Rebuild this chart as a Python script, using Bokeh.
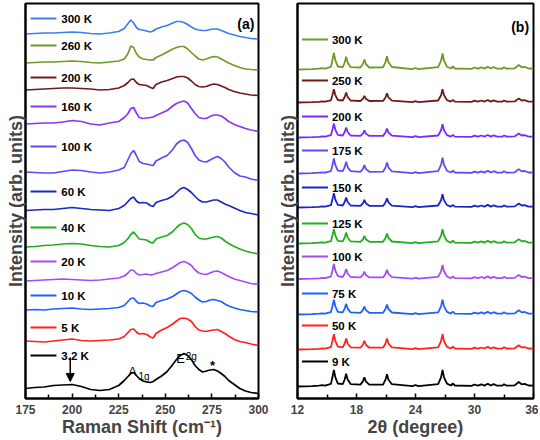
from bokeh.plotting import figure
from bokeh.layouts import row
from bokeh.models import FixedTicker, Range1d, Arrow, NormalHead
from bokeh.embed import file_html
from bokeh.resources import INLINE
from bokeh.core.properties import value

FONT = "Liberation Sans"

# ---------------- Panel (a): Raman spectra ----------------
raman_shift = [175, 180, 185, 190, 195, 200, 205, 210, 215, 220, 225,
               228, 230, 231.5, 233, 234.5, 236, 238, 240, 242, 243.5, 245,
               248, 251, 254, 256, 258, 260, 262, 264, 266, 268, 270,
               272, 274, 276, 278, 280, 282, 284, 287, 290, 293, 296, 300]

raman_300K = [366.5, 367, 367.5, 367.5, 368, 368.5, 368, 367, 366.5, 367.5, 369,
              372, 377, 380.5, 377.5, 373, 371, 370.5, 369.5, 368.5, 369.5, 371.5,
              373.5, 375, 377.5, 379, 379, 378, 376, 373.5, 371.5, 370.5, 370,
              370, 371, 371.5, 371.5, 370, 368.5, 367, 365.5, 364, 363, 362, 361.5]
raman_260K = [337.5, 338, 338.5, 338.5, 339, 339.5, 339, 338, 337.5, 338.5, 339.5,
              341.5, 347, 354.5, 353, 347, 343.5, 341.5, 341, 340.5, 340.5, 343,
              345.5, 348.5, 351.5, 353, 354, 354, 351.5, 348, 344.5, 341.5, 340.5,
              341.5, 343, 344, 343.5, 341.5, 339.5, 337.5, 335, 333, 331.5, 331, 330.5]
raman_200K = [310.5, 311, 311.5, 312, 312.5, 312.5, 312, 311.5, 310.5, 311, 312.5,
              315, 318, 321, 321.5, 318, 316, 315.5, 315, 313, 312, 316,
              318.5, 320, 322, 323.5, 324, 324, 322.5, 319.5, 316, 314, 313.5,
              314, 315.5, 316.5, 316, 314.5, 313, 311, 309, 307.5, 306.5, 305.5, 305]
raman_160K = [276.5, 277, 277.5, 277.5, 278.5, 280, 279, 276.5, 275.5, 277.5, 279,
              283, 287, 292, 293, 287.5, 283, 282, 282.5, 283, 283.5, 285,
              287.5, 290, 294.5, 297, 298.5, 299.5, 297.5, 292, 287, 283, 282,
              282, 284, 285.5, 285.5, 284.5, 282, 279, 276, 274, 272, 270.5, 269]
raman_100K = [228.5, 228, 227.5, 227.5, 229, 230.5, 230, 228.5, 227.5, 228.5, 230.5,
              233, 241, 247, 250, 245, 239, 237, 236.5, 235.5, 235, 239.5,
              242.5, 245, 251, 256.5, 259.5, 260.5, 258, 252, 245, 240.5, 239,
              238.5, 240.5, 242.5, 244, 242, 238.5, 233.5, 228, 224.5, 223.5, 221.5, 220]
raman_60K = [190, 190.5, 191, 191, 192, 193, 192, 191, 190.5, 190, 192,
             195, 199, 202, 203.5, 199.5, 197.5, 198, 197.5, 195, 194, 198,
             200, 201.5, 204.5, 208, 211.5, 213, 211, 208, 204, 200.5, 198.5,
             198.5, 199.5, 200.5, 200.5, 198.5, 196.5, 195, 192.5, 190, 188, 187, 185.5]
raman_40K = [153.5, 154, 155, 155.5, 156.5, 157, 156.5, 155, 154, 153.5, 155,
             158, 162, 166, 168.5, 165, 161.5, 161, 160.5, 158, 157.5, 161.5,
             163.5, 165, 169, 173, 176, 177.5, 176, 172, 166, 162.5, 161.5,
             161.5, 162.5, 163.5, 164, 162.5, 159.5, 157, 154, 151.5, 149.5, 148, 146.5]
raman_20K = [119.5, 120, 120.5, 121, 121.5, 121, 120.5, 120, 120.5, 121.5, 122.5,
             124.5, 127.5, 130.5, 130, 127, 125.5, 126, 126.5, 125.5, 126, 127,
             128.5, 130, 133, 135.5, 138, 139, 137.5, 135, 130.5, 127.5, 126.5,
             126, 127.5, 129, 129.5, 128, 126, 124, 121.5, 120, 118.5, 117, 116]
raman_10K = [90.5, 91, 90.5, 91.5, 92, 92.5, 91.5, 91, 91.5, 92, 93,
             95, 99, 102, 102.5, 99, 97, 97.5, 96.5, 94.5, 94, 98,
             100, 101.5, 104, 106.5, 109, 110, 109, 107, 103.5, 100.5, 98.5,
             99, 100.5, 101, 100, 99, 96.5, 94.5, 92.5, 91, 90, 89, 88.5]
raman_5K = [59.5, 59, 58.5, 59.5, 60.5, 61.5, 60, 59.5, 60, 60.5, 61.5,
            64, 68, 71, 71.5, 68.5, 66.5, 67, 66, 63.5, 62.5, 67,
            70.5, 73, 76.5, 79.5, 82, 82.5, 81.5, 79, 74, 70.5, 69.5,
            69, 70, 70.5, 71, 69, 67, 64.5, 61, 59, 58, 56.5, 55]
raman_3p2K = [12, 13, 13.5, 15, 15.5, 16, 14, 11, 10, 11, 15,
              20, 24, 27, 28, 25, 22, 19.5, 18.5, 18, 19, 21,
              24.5, 29, 36, 41, 45, 47, 45, 41, 35, 31, 28.5,
              29.5, 30.5, 31, 29.5, 27, 24, 20, 16, 12, 9.5, 8, 7]

raman_series = [raman_300K, raman_260K, raman_200K, raman_160K, raman_100K,
                raman_60K, raman_40K, raman_20K, raman_10K, raman_5K, raman_3p2K]
raman_labels = ["300 K", "260 K", "200 K", "160 K", "100 K", "60 K",
                "40 K", "20 K", "10 K", "5 K", "3.2 K"]
raman_colors = ["#3a80ee", "#6f9a26", "#701a1a", "#8b36ee", "#5e4cf2", "#1c26c4",
                "#20ae20", "#a64cf0", "#1f60ff", "#ff2020", "#000000"]
raman_label_y = [382, 355, 323, 294, 254, 209, 173, 139, 105, 73, 45]

# ---------------- Panel (b): XRD patterns ----------------
two_theta = [12.0, 13.5, 14.2, 14.5, 14.8, 15.4, 15.55, 15.7, 15.85, 16.1,
             16.6, 16.8, 16.95, 17.1, 17.4, 18.4, 18.65, 18.8, 18.95, 19.3,
             20.7, 20.95, 21.1, 21.25, 21.6, 23.7, 24.0, 24.3, 26.3, 26.6,
             26.75, 26.9, 27.2, 27.6, 27.8, 28.0, 29.7, 30.0, 30.35, 30.7,
             31.0, 31.35, 31.65, 31.95, 32.3, 32.8, 33.0, 33.3, 34.1, 34.5,
             34.8, 35.1, 35.5, 36.0]

xrd_300K = [0, 0.3, 0.8, 1.3, 0.8, 2.6, 9.2, 16.7, 9.2, 3.0, 2.4, 7.0, 12.7, 7.0, 2.4, 2.0, 5.5, 10.0, 5.5, 2.0, 2.1, 7.3, 13.3, 7.3, 2.5, 0.3, 1.5, 0.3, 2.3, 8.8, 16.0, 8.8, 2.8, 1.0, 3.0, 1.0, 0.6, 2.0, 0.8, 2.2, 0.9, 2.8, 1.0, 2.4, 0.8, 0.8, 2.3, 0.8, 1.2, 4.5, 2.2, 2.6, 1.0, 0.8]
xrd_250K = [0, 0.3, 0.7, 1.1, 0.8, 2.2, 7.3, 13.3, 7.3, 2.5, 2.0, 5.5, 10.0, 5.5, 2.0, 1.5, 3.7, 6.7, 3.7, 1.5, 1.6, 5.1, 9.3, 5.1, 1.9, 0.3, 1.3, 0.3, 2.0, 7.3, 13.3, 7.3, 2.4, 0.9, 2.6, 0.9, 0.6, 1.8, 0.8, 2.0, 0.9, 2.5, 0.9, 2.1, 0.8, 0.8, 2.0, 0.8, 1.1, 3.9, 2.0, 2.3, 0.9, 0.8]
xrd_200K = [0, 0.3, 0.7, 1.1, 0.8, 2.3, 7.7, 14.0, 7.7, 2.6, 2.0, 5.5, 10.0, 5.5, 2.0, 1.6, 3.9, 7.0, 3.9, 1.6, 1.6, 5.0, 9.0, 5.0, 1.9, 0.3, 1.3, 0.3, 2.0, 7.3, 13.3, 7.3, 2.4, 0.9, 2.6, 0.9, 0.6, 1.8, 0.8, 2.0, 0.9, 2.5, 0.9, 2.2, 0.8, 0.8, 2.0, 0.8, 1.1, 4.0, 2.0, 2.3, 0.9, 0.8]
xrd_175K = [0, 0.3, 0.8, 1.2, 0.8, 2.4, 8.3, 15.0, 8.3, 2.8, 2.3, 6.4, 11.7, 6.4, 2.3, 1.7, 4.6, 8.3, 4.6, 1.7, 1.8, 6.0, 11.0, 6.0, 2.2, 0.3, 1.4, 0.3, 2.3, 8.6, 15.7, 8.6, 2.8, 1.0, 2.9, 1.0, 0.6, 1.9, 0.8, 2.1, 0.9, 2.7, 1.0, 2.3, 0.8, 0.8, 2.2, 0.8, 1.2, 4.4, 2.1, 2.5, 1.0, 0.8]
xrd_150K = [0, 0.3, 0.7, 1.1, 0.8, 2.3, 7.9, 14.3, 7.9, 2.6, 2.0, 5.5, 10.0, 5.5, 2.0, 1.7, 4.2, 7.7, 4.2, 1.7, 1.6, 5.1, 9.3, 5.1, 1.9, 0.3, 1.3, 0.3, 2.0, 7.3, 13.3, 7.3, 2.4, 0.9, 2.6, 0.9, 0.6, 1.8, 0.8, 2.0, 0.9, 2.6, 0.9, 2.2, 0.8, 0.8, 2.1, 0.8, 1.1, 4.0, 2.0, 2.4, 0.9, 0.8]
xrd_125K = [0, 0.3, 0.8, 1.2, 0.8, 2.3, 7.9, 14.3, 7.9, 2.6, 2.2, 6.0, 11.0, 6.0, 2.2, 1.7, 4.2, 7.7, 4.2, 1.7, 1.7, 5.5, 10.0, 5.5, 2.0, 0.3, 1.4, 0.3, 2.1, 7.9, 14.3, 7.9, 2.5, 0.9, 2.8, 0.9, 0.6, 1.9, 0.8, 2.1, 0.9, 2.7, 0.9, 2.3, 0.8, 0.8, 2.2, 0.8, 1.2, 4.4, 2.1, 2.5, 0.9, 0.8]
xrd_100K = [0, 0.3, 0.7, 1.1, 0.8, 2.4, 8.3, 15.0, 8.3, 2.8, 2.0, 5.5, 10.0, 5.5, 2.0, 1.6, 4.0, 7.3, 4.0, 1.6, 1.6, 5.1, 9.3, 5.1, 1.9, 0.3, 1.3, 0.3, 2.1, 7.7, 14.0, 7.7, 2.5, 0.9, 2.7, 0.9, 0.6, 1.8, 0.8, 2.0, 0.9, 2.6, 0.9, 2.2, 0.8, 0.8, 2.1, 0.8, 1.1, 4.1, 2.0, 2.4, 0.9, 0.8]
xrd_75K = [0, 0.3, 0.8, 1.2, 0.8, 2.4, 8.1, 14.7, 8.1, 2.7, 2.1, 5.9, 10.7, 5.9, 2.1, 1.7, 4.4, 8.0, 4.4, 1.7, 1.7, 5.5, 10.0, 5.5, 2.0, 0.3, 1.4, 0.3, 2.2, 8.1, 14.7, 8.1, 2.6, 0.9, 2.8, 0.9, 0.6, 1.9, 0.8, 2.1, 0.9, 2.7, 0.9, 2.3, 0.8, 0.8, 2.2, 0.8, 1.1, 4.3, 2.1, 2.5, 0.9, 0.8]
xrd_50K = [0, 0.4, 0.7, 1.2, 0.9, 2.4, 8.4, 15.3, 8.4, 2.8, 2.2, 6.0, 11.0, 6.0, 2.2, 1.8, 4.8, 8.7, 4.8, 1.8, 1.8, 6.0, 11.0, 6.0, 2.2, 0.4, 1.4, 0.4, 2.2, 8.4, 15.3, 8.4, 2.7, 1.0, 2.8, 1.0, 0.7, 1.8, 0.9, 2.0, 1.0, 2.6, 1.0, 2.2, 0.9, 0.9, 2.2, 0.9, 1.2, 4.2, 2.1, 2.4, 1.0, 0.8]
xrd_9K = [0, 0.3, 0.8, 1.3, 0.8, 2.6, 9.2, 16.7, 9.2, 3.0, 2.4, 7.0, 12.7, 7.0, 2.4, 1.9, 5.1, 9.3, 5.1, 1.9, 2.0, 6.8, 12.3, 6.8, 2.3, 0.3, 1.5, 0.3, 2.4, 9.2, 16.7, 9.2, 2.9, 1.0, 3.0, 1.0, 0.6, 2.0, 0.8, 2.2, 0.9, 2.8, 1.0, 2.4, 0.8, 0.8, 2.3, 0.8, 1.2, 4.5, 2.2, 2.6, 1.0, 0.8]

xrd_series = [xrd_300K, xrd_250K, xrd_200K, xrd_175K, xrd_150K,
              xrd_125K, xrd_100K, xrd_75K, xrd_50K, xrd_9K]
xrd_offsets = [331, 298, 263, 227, 193, 157, 121.5, 86, 51, 14]
xrd_labels = ["300 K", "250 K", "200 K", "175 K", "150 K",
              "125 K", "100 K", "75 K", "50 K", "9 K"]
xrd_colors = ["#6f9a26", "#701a1a", "#7a2aff", "#5c4cf5", "#1c22cc",
              "#20ae20", "#a64cf0", "#1f60ff", "#ff2020", "#000000"]
xrd_label_y = [361, 320, 284, 250, 213, 177, 144, 107, 75, 39]

raman_ticks = [175, 200, 225, 250, 275, 300]
xrd_ticks = [12, 18, 24, 30, 36]

for s in raman_series:
    assert len(s) == len(raman_shift)
for s in xrd_series:
    assert len(s) == len(two_theta)


def make_fig(width, xr, ticks, minor, xlabel, bl, br):
    p = figure(width=width, height=439, x_range=xr, y_range=Range1d(2, 397),
               output_backend="svg", toolbar_location=None,
               min_border_left=bl, min_border_right=br,
               min_border_top=3, min_border_bottom=41)
    p.grid.visible = False
    p.outline_line_color = "black"
    p.outline_line_width = 2
    xa = p.xaxis[0]
    xa.ticker = FixedTicker(ticks=ticks, minor_ticks=minor)
    xa.axis_label = xlabel
    xa.axis_label_text_font = FONT
    xa.axis_label_text_font_style = "bold"
    xa.axis_label_text_font_size = "18px"
    xa.axis_label_standoff = 0
    xa.major_label_text_font = FONT
    xa.major_label_text_font_style = "bold"
    xa.major_label_text_font_size = "12px"
    xa.major_label_standoff = 6
    xa.major_tick_in = 5
    xa.major_tick_out = 0
    xa.minor_tick_in = 4
    xa.minor_tick_out = 0
    xa.axis_line_width = 2
    xa.major_tick_line_width = 1.5
    xa.minor_tick_line_width = 1.5
    ya = p.yaxis[0]
    ya.ticker = FixedTicker(ticks=[])
    ya.axis_label = "Intensity (arb. units)"
    ya.axis_label_text_font = FONT
    ya.axis_label_text_font_style = "bold"
    ya.axis_label_text_font_size = "18px"
    ya.axis_label_standoff = 0
    ya.major_label_standoff = 0
    ya.major_tick_in = 0
    ya.major_tick_out = 0
    ya.minor_tick_in = 0
    ya.minor_tick_out = 0
    ya.axis_line_width = 2
    return p


# ---- panel (a)
pa = make_fig(270, Range1d(175, 300), raman_ticks,
              [187.5, 212.5, 237.5, 262.5, 287.5], "Raman Shift (cm\u207b\u00b9)", 25, 12)
for ys, c in zip(raman_series, raman_colors):
    pa.line(raman_shift, ys, line_color=c, line_width=1.7)
pa.segment(x0=[177.7] * len(raman_label_y), x1=[191.6] * len(raman_label_y),
           y0=raman_label_y, y1=raman_label_y, line_color=raman_colors, line_width=2)
pa.text(x=[194.2] * len(raman_label_y), y=raman_label_y, text=raman_labels,
        text_font=value(FONT), text_font_style="bold", text_font_size=value("11.5px"),
        text_baseline="middle", text_align="left", text_color="black")
pa.text(x=[297.8], y=[377], text=["(a)"], text_font=value(FONT), text_font_style="bold",
        text_font_size=value("14px"), text_baseline="middle", text_align="right")
# peak annotations
pa.text(x=[232.5], y=[29.5], text=["A"], text_font=value(FONT),
        text_font_size=value("13px"), text_baseline="alphabetic", text_align="center")
pa.text(x=[235.6], y=[24.5], text=["1g"], text_font=value(FONT),
        text_font_size=value("10px"), text_baseline="alphabetic", text_align="left")
pa.text(x=[258.2], y=[42], text=["E"], text_font=value(FONT),
        text_font_size=value("13px"), text_baseline="alphabetic", text_align="center")
pa.text(x=[261.0], y=[44], text=["2g"], text_font=value(FONT),
        text_font_size=value("10px"), text_baseline="alphabetic", text_align="left")
pa.text(x=[275.3], y=[35], text=["*"], text_font=value(FONT), text_font_style="bold",
        text_font_size=value("13px"), text_baseline="alphabetic", text_align="center")
pa.add_layout(Arrow(end=NormalHead(size=8, fill_color="black", line_color="black"),
                    x_start=199, y_start=43, x_end=199, y_end=19,
                    line_color="black", line_width=1.5))

# ---- panel (b)
pb = make_fig(268, Range1d(12, 36), xrd_ticks, [15, 21, 27, 33], "2\u03b8 (degree)", 27, 5)
for ys, off, c in zip(xrd_series, xrd_offsets, xrd_colors):
    pb.line(two_theta, [v + off for v in ys], line_color=c, line_width=1.8)
pb.segment(x0=[12.45] * len(xrd_label_y), x1=[15.1] * len(xrd_label_y),
           y0=xrd_label_y, y1=xrd_label_y, line_color=xrd_colors, line_width=2)
pb.text(x=[15.5] * len(xrd_label_y), y=xrd_label_y, text=xrd_labels,
        text_font=value(FONT), text_font_style="bold", text_font_size=value("11.5px"),
        text_baseline="middle", text_align="left", text_color="black")
pb.text(x=[35.55], y=[374], text=["(b)"], text_font=value(FONT), text_font_style="bold",
        text_font_size=value("14px"), text_baseline="middle", text_align="right")

layout = row(pa, pb)
open("out.html", "w").write(file_html(layout, INLINE))
